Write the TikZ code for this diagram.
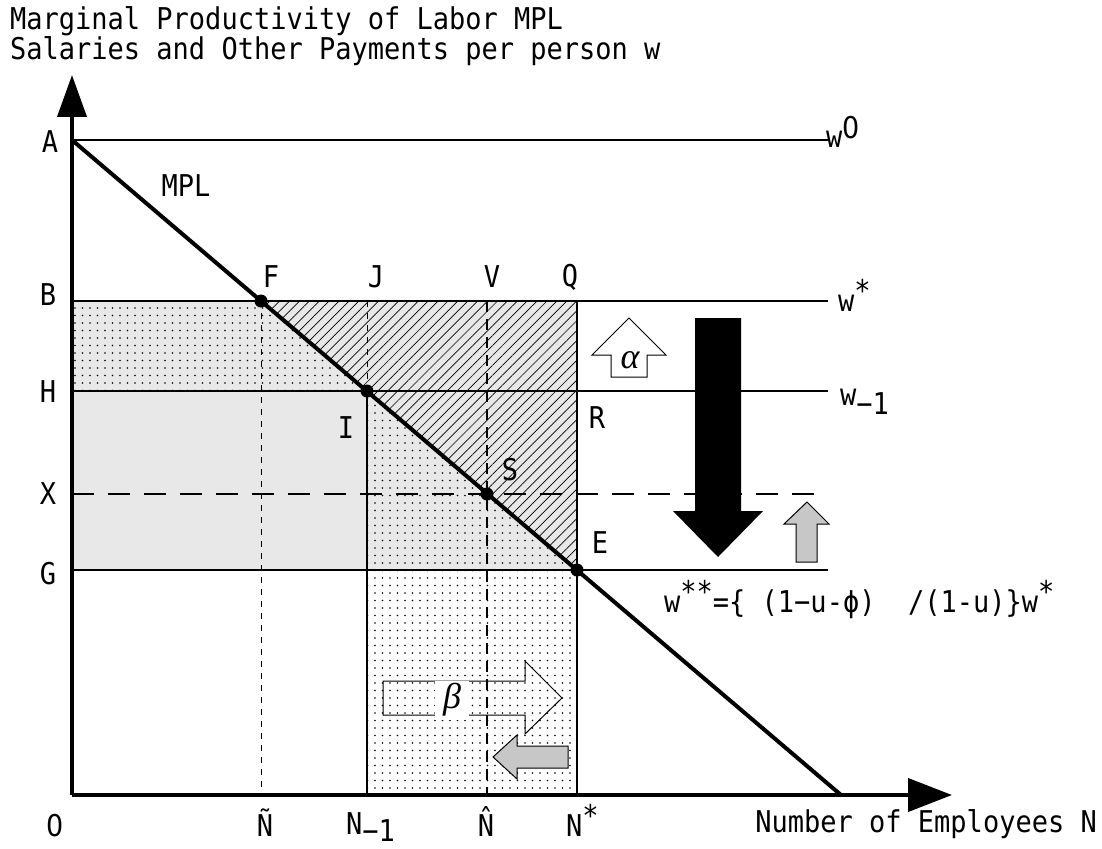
\documentclass[tikz,border=0pt]{standalone}
\usepackage{fontspec}
\setmainfont{DejaVu Sans Mono}[FakeStretch=0.9]
\newfontfamily\zerofont{DejaVu Sans}[FakeStretch=0.9]
\newfontfamily\greekfont{Liberation Serif}
\usetikzlibrary{arrows.meta,patterns.meta}
\newcommand{\supstar}[1]{\raisebox{0.32em}{#1}}
\begin{document}
\begin{tikzpicture}[x=1pt,y=-1pt,
  lbl/.style={font=\fontsize{30}{32}\selectfont, inner sep=0pt},
  greek/.style={font=\fontsize{36}{38}\greekfont\itshape, inner sep=0pt},
  lightfill/.style={fill=black!9},
  dotfill/.style={pattern={Dots[distance=7.5pt,radius=0.95pt]}},
  hatchfill/.style={pattern={Lines[angle=45,distance=7pt,line width=0.7pt]}},
  hline/.style={line width=2pt},
  thinsolid/.style={line width=1.2pt},
  thindash/.style={line width=1pt, dash pattern=on 6pt off 6pt},
  thickdash/.style={line width=2.4pt, dash pattern=on 11pt off 7pt},
  hdash/.style={line width=2.2pt, dash pattern=on 22pt off 14pt},
  mpl/.style={line width=4pt},
  axis/.style={line width=4pt},
  dotn/.style={circle, fill=black, inner sep=0pt, minimum size=13pt},
  hollowarrow/.style={draw=black, line width=1pt, fill=white},
  openarrow/.style={draw=black, line width=1pt},
  grayarrow/.style={draw=black, line width=1pt, fill=black!22},
  blackarrow/.style={fill=black}
]
\useasboundingbox (0,0) rectangle (1102,848);

% key points
\coordinate (O) at (72,795);
\coordinate (Ytip) at (72,75);
\coordinate (Xtip) at (952,795);
\coordinate (A) at (72,140);
\coordinate (B) at (72,301);
\coordinate (H) at (72,391);
\coordinate (X) at (72,494);
\coordinate (G) at (72,570);
\coordinate (F) at (261,301);
\coordinate (I) at (367,391);
\coordinate (S) at (487,494);
\coordinate (E) at (577,570);
\coordinate (Q) at (577,301);
\coordinate (J) at (367,301);
\coordinate (V) at (487,301);
\coordinate (Gq) at (367,570);
\coordinate (Nt) at (261,795);
\coordinate (N1) at (367,795);
\coordinate (Nh) at (487,795);
\coordinate (Ns) at (577,795);
\coordinate (Mend) at (841,795);
\coordinate (A0) at (828,140);
\coordinate (B0) at (828,301);
\coordinate (H0) at (828,391);
\coordinate (X0) at (828,494);
\coordinate (G0) at (828,570);

% shaded regions
\fill[lightfill] (B) rectangle (E);
\fill[dotfill] (B) -- (F) -- (I) -- (H) -- cycle;
\fill[dotfill] (I) -- (E) -- (Gq) -- cycle;
\fill[dotfill] (Gq) rectangle (Ns);
\fill[hatchfill] (F) -- (Q) -- (E) -- cycle;

% guide lines
\draw[thindash] (J) -- (I);
\draw[thinsolid] (I) -- (N1);
\draw[thinsolid] (Q) -- (Ns);
\draw[thindash] (F) -- (Nt);
\draw[thickdash] (V) -- (Nh);

% horizontal levels
\draw[hline] (A) -- (A0);
\draw[hline] (B) -- (B0);
\draw[hline] (H) -- (H0);
\draw[hline] (G) -- (G0);
\draw[hdash] (X) -- (X0);

% MPL line
\draw[mpl] (A) -- (Mend);

% axes
\draw[axis, -{Triangle[length=42pt,width=29pt]}] (O) -- (Ytip);
\draw[axis, -{Triangle[length=44pt,width=33pt]}] (O) -- (Xtip);

% points
\node[dotn] (dF) at (F) {};
\node[dotn] (dI) at (I) {};
\node[dotn] (dS) at (S) {};
\node[dotn] (dE) at (E) {};

% block arrows
\draw[hollowarrow] (611,377) -- (647,377) -- (647,355) -- (666,355) -- (629,318) -- (592,355) -- (611,355) -- cycle;
\node[greek] (alpha) at (630,360) {α};
\fill[blackarrow] (695,318) -- (741,318) -- (741,511) -- (763,511) -- (718,557) -- (673,511) -- (695,511) -- cycle;
\draw[grayarrow] (796,562) -- (817,562) -- (817,524) -- (829,524) -- (807,502) -- (784,524) -- (796,524) -- cycle;
\draw[openarrow] (383,681) -- (525,681) -- (525,661) -- (562,698) -- (525,734) -- (525,715) -- (383,715) -- cycle;
\node[greek, fill=white, inner xsep=8pt, inner ysep=3pt] (beta) at (452,700) {β};
\draw[grayarrow] (568,746) -- (517,746) -- (517,735) -- (493,757) -- (517,779) -- (517,768) -- (568,768) -- cycle;

% title
\node[lbl, anchor=base west] (t1) at (10,30) {Marginal Productivity of Labor MPL};
\node[lbl, anchor=base west] (t2) at (10,60) {Salaries and Other Payments per person w};

% axis letters
\node[lbl] (lA) at (50,142) {A};
\node[lbl] (lB) at (48,295) {B};
\node[lbl] (lH) at (48,392) {H};
\node[lbl] (lX) at (48,494) {X};
\node[lbl] (lG) at (48,574) {G};
\node[lbl, anchor=base] (lO) at (55,836) {\zerofont 0};

% point letters
\node[lbl] (lMPL) at (186,186) {MPL};
\node[lbl] (lF) at (271,277) {F};
\node[lbl] (lJ) at (376,277) {J};
\node[lbl] (lV) at (492,277) {V};
\node[lbl] (lQ) at (570,277) {Q};
\node[lbl] (lI) at (346,428) {I};
\node[lbl] (lR) at (597,418) {R};
\node[lbl] (lS) at (510,470) {S};
\node[lbl] (lE) at (600,543) {E};

% wage labels
\node[lbl, anchor=base west] (w0) at (826,147) {w\raisebox{0.3em}{\zerofont 0}};
\node[lbl, anchor=base west] (wstar) at (838,311) {w\supstar{*}};
\node[lbl, anchor=base west] (wm1) at (840,405) {w\raisebox{-0.33em}{−1}};
\node[lbl, anchor=base west] (wss) at (664,612) {w\supstar{**}=\{~(1−u-ϕ)~~/(1-u)\}w\supstar{*}};

% N labels
\node[lbl, anchor=base] (lNt) at (265,836) {Ñ};
\node[lbl, anchor=base west] (lN1) at (346,834) {N\raisebox{-0.25em}{−1}};
\node[lbl, anchor=base] (lNh) at (486,836) {N̂};
\node[lbl, anchor=base west] (lNs) at (566,836) {N\supstar{*}};
\node[lbl, anchor=base east] (lN) at (1097,832) {Number of Employees N};
\end{tikzpicture}
\end{document}
